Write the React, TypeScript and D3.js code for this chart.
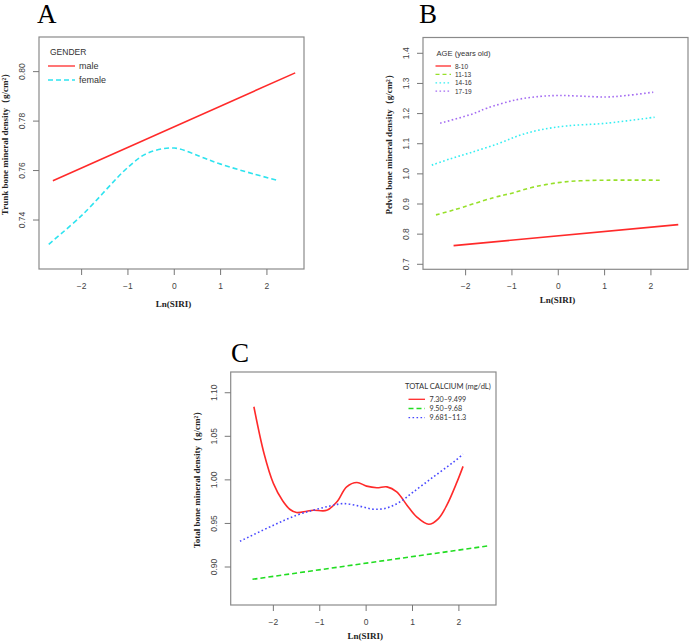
import * as d3 from 'd3';

// shared x axis (Ln(SIRI))
const xTicks = [-2, -1, 0, 1, 2];
const xDomain = [-2.92, 2.8];

// A: trunk BMD by gender
const trunkTicks = [0.74, 0.76, 0.78, 0.80];
const maleX = [-2.62, 2.61];
const maleY = [0.7559, 0.7995];
const femaleX = [-2.71, -1.99, -0.99, -0.58, 0, 0.57, 1.0, 1.72, 2.24];
const femaleY = [0.7302, 0.742, 0.7615, 0.767, 0.7691, 0.7656, 0.7626, 0.7586, 0.756];

// B: pelvis BMD by age group
const pelvisTicks = [0.7, 0.8, 0.9, 1.0, 1.1, 1.2, 1.3, 1.4];
const age8X = [-2.26, 2.59];
const age8Y = [0.762, 0.8316];
const age11X = [-2.64, -2.26, -1.4, -1.0, -0.54, 0, 0.47, 1.04, 2.19];
const age11Y = [0.864, 0.88, 0.921, 0.936, 0.956, 0.971, 0.977, 0.979, 0.979];
const age14X = [-2.73, -2.33, -1.9, -1.3, -0.83, -0.39, 0.18, 1.04, 2.08];
const age14Y = [1.029, 1.05, 1.07, 1.1, 1.128, 1.146, 1.159, 1.168, 1.188];
const age17X = [-2.55, -1.83, -1.54, -0.9, -0.39, 0, 0.47, 1.04, 1.47, 2.05];
const age17Y = [1.168, 1.2, 1.218, 1.246, 1.257, 1.26, 1.258, 1.255, 1.26, 1.271];

// C: total BMD by serum calcium
const totalTicks = [0.9, 0.95, 1.0, 1.05, 1.1];
const caLowX = [-2.42, -2.2, -2.0, -1.8, -1.64, -1.5, -1.28, -1.14, -0.85, -0.63, -0.42, -0.2, 0.01, 0.23, 0.45, 0.66, 0.88, 1.09, 1.35, 1.56, 1.74, 1.96, 2.09];
const caLowY = [1.0839, 1.03, 0.996, 0.976, 0.966, 0.9625, 0.964, 0.9652, 0.965, 0.9748, 0.992, 0.997, 0.9928, 0.991, 0.992, 0.9862, 0.971, 0.9575, 0.949, 0.9556, 0.971, 0.9977, 1.0155];
const caMidX = [-2.45, 2.61];
const caMidY = [0.8859, 0.9241];
const caHighX = [-2.72, -2.0, -1.5, -1.14, -0.78, -0.49, -0.13, 0.16, 0.45, 0.73, 1.02, 1.45, 1.89, 2.09];
const caHighY = [0.9295, 0.9479, 0.9594, 0.9652, 0.97, 0.9728, 0.9697, 0.9663, 0.9678, 0.9748, 0.9862, 1.0034, 1.0207, 1.0295];

const zip = (xs, ys) => xs.map((x, i) => [x, ys[i]]);

const RED = '#ff2a2a';

function Panel({ box, yDomain, yTicks, yFmt, series, letter, letterX, letterY, yTitle, xTitleY, legend }) {
	const x = d3.scaleLinear().domain(xDomain).range([box.x0, box.x1]);
	const y = d3.scaleLinear().domain(yDomain).range([box.y1, box.y0]);
	const fmt = d3.format(yFmt);
	const cx = (box.x0 + box.x1) / 2 + 2;
	const cy = (box.y0 + box.y1) / 2 - 11;

	return (<g>
		<text x={letterX} y={letterY} fontFamily='Liberation Serif, serif' fontSize={27}>{letter}</text>
		<rect x={box.x0} y={box.y0} width={box.x1 - box.x0} height={box.y1 - box.y0} fill='none' stroke='#8a8a8a' strokeWidth={1.2} />

		{series.map((s, i) => {
			const line = d3.line().x(d => x(d[0])).y(d => y(d[1])).curve(d3.curveCatmullRom.alpha(0.5));
			return <path key={i} d={line(s.data)} fill='none' stroke={s.color} strokeWidth={1.6} strokeDasharray={s.dash} />
		})}

		{xTicks.map(t => <g key={t}>
			<line x1={x(t)} x2={x(t)} y1={box.y1} y2={box.y1 + 6} stroke='#777' />
			<text x={x(t)} y={box.y1 + 17} textAnchor='middle' dominantBaseline='central' fontFamily='Liberation Sans, Arial, sans-serif' fontSize={8.5} fill='#444'>{d3.format('')(t)}</text>
		</g>)}
		{yTicks.map(t => <g key={t}>
			<line x1={box.x0 - 6} x2={box.x0} y1={y(t)} y2={y(t)} stroke='#777' />
			<text transform={`translate(${box.x0 - 17},${y(t)}) rotate(-90)`} textAnchor='middle' dominantBaseline='central' fontFamily='Liberation Sans, Arial, sans-serif' fontSize={8.5} fill='#444'>{fmt(t)}</text>
		</g>)}

		<text x={cx} y={xTitleY} textAnchor='middle' dominantBaseline='central' fontFamily='Liberation Serif, serif' fontWeight='bold' fontSize={9} fill='#222'>Ln(SIRI)</text>
		<text transform={`translate(${box.x0 - 34},${cy}) rotate(-90)`} textAnchor='middle' dominantBaseline='central' fontFamily='Liberation Serif, serif' fontWeight='bold' fontSize={9} fill='#222'>{yTitle}</text>

		<text x={legend.x} y={legend.titleY} dominantBaseline='central' fontFamily={legend.font} fontSize={legend.titleSize} fill='#333'>{legend.title}</text>
		{series.map((s, i) => <g key={i}>
			<line x1={legend.lx0} x2={legend.lx1} y1={legend.y0 + i * legend.dy} y2={legend.y0 + i * legend.dy} stroke={s.color} strokeWidth={1.3} strokeDasharray={s.dash} />
			<text x={legend.tx} y={legend.y0 + i * legend.dy} dominantBaseline='central' fontFamily={legend.font} fontSize={legend.size} fill='#333'>{s.label}</text>
		</g>)}
	</g>);
}

export default function App() {
	const trunkSeries = [
		{ label: 'male', data: zip(maleX, maleY), color: RED },
		{ label: 'female', data: zip(femaleX, femaleY), color: '#2ee3ef', dash: '5,3' },
	];
	const pelvisSeries = [
		{ label: '8-10', data: zip(age8X, age8Y), color: RED },
		{ label: '11-13', data: zip(age11X, age11Y), color: '#97e02a', dash: '4,3' },
		{ label: '14-16', data: zip(age14X, age14Y), color: '#36eef2', dash: '1.6,2.4' },
		{ label: '17-19', data: zip(age17X, age17Y), color: '#a46cf2', dash: '1.6,2.4' },
	];
	const totalSeries = [
		{ label: '7.30\u20139.499', data: zip(caLowX, caLowY), color: RED },
		{ label: '9.50\u20139.68', data: zip(caMidX, caMidY), color: '#22dd22', dash: '5,3' },
		{ label: '9.681\u201311.3', data: zip(caHighX, caHighY), color: '#4848ff', dash: '1.6,2.4' },
	];

	return (
		<svg width={689} height={641} style={{ position: 'absolute', left: 0, top: 0, background: '#fff' }}>
			<Panel
				box={{ x0: 39, y0: 37, x1: 304, y1: 269 }}
				yDomain={[0.7202, 0.814]} yTicks={trunkTicks} yFmt='.2f'
				series={trunkSeries} letter='A' letterX={37} letterY={23}
				yTitle='Trunk bone mineral density（g/cm²）' xTitleY={304}
				legend={{ x: 50, titleY: 52, title: 'GENDER', titleSize: 8.5, size: 9, font: 'Liberation Sans, Arial, sans-serif', lx0: 48, lx1: 75, tx: 79, y0: 66, dy: 14 }}
			/>
			<Panel
				box={{ x0: 423, y0: 37.5, x1: 688, y1: 269.3 }}
				yDomain={[0.6834, 1.4524]} yTicks={pelvisTicks} yFmt='.1f'
				series={pelvisSeries} letter='B' letterX={419} letterY={23}
				yTitle='Pelvis bone mineral density（g/cm²）' xTitleY={300}
				legend={{ x: 436.5, titleY: 53, title: 'AGE (years old)', titleSize: 7.6, size: 6.5, font: 'Liberation Sans, Arial, sans-serif', lx0: 435.5, lx1: 451, tx: 455, y0: 66, dy: 8.4 }}
			/>
			<Panel
				box={{ x0: 230.7, y0: 372, x1: 496, y1: 605 }}
				yDomain={[0.8564, 1.1238]} yTicks={totalTicks} yFmt='.2f'
				series={totalSeries} letter='C' letterX={231} letterY={362}
				yTitle='Total bone mineral density（g/cm²）' xTitleY={636}
				legend={{ x: 405, titleY: 386, title: 'TOTAL CALCIUM (mg/dL)', titleSize: 7.6, size: 7.2, font: 'Lato, Liberation Sans, sans-serif', lx0: 408.5, lx1: 425, tx: 429.5, y0: 399.3, dy: 9.2 }}
			/>
		</svg>
	);
}
